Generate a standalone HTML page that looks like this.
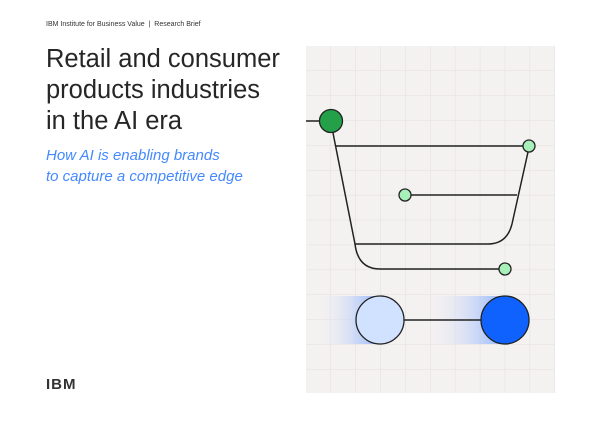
<!DOCTYPE html>
<html><head><style>
body{margin:0;width:600px;height:424px;background:#fff;font-family:"Liberation Sans",sans-serif;position:relative;overflow:hidden}
.t{position:absolute;left:46px;color:#161616}
</style></head><body>
<div class="t" style="top:21px;font-size:7px;color:#333">IBM Institute for Business Value &nbsp;|&nbsp; Research Brief</div>
<div class="t" style="top:44px;font-size:25.5px;line-height:31px;color:#262626;letter-spacing:0px">Retail and consumer<br>products industries<br>in the AI era</div>
<div class="t" style="top:145px;font-size:15px;line-height:21px;font-style:italic;color:#4589ff">How AI is enabling brands<br>to capture a competitive edge</div>
<div class="t" style="top:376px;font-size:15px;font-weight:bold;letter-spacing:1px;color:#333">IBM</div>
<svg style="position:absolute;left:0;top:0" width="600" height="424">
<defs>
<pattern id="g" x="306" y="46" width="24.9" height="24.9" patternUnits="userSpaceOnUse"><path d="M24.9 0V24.9M0 24.9H24.9" stroke="#e4dfdf" stroke-width="1" fill="none"/></pattern>
<linearGradient id="b1" x1="0" x2="1"><stop offset="0" stop-color="#f4f1f1" stop-opacity="0"/><stop offset="1" stop-color="#8fb4ff"/></linearGradient>
</defs>
<rect x="306" y="46" width="249" height="347" fill="#f4f1f1"/>
<rect x="306" y="46" width="249" height="347" fill="url(#g)"/>
<rect x="315" y="296" width="65" height="48" fill="url(#b1)"/>
<rect x="425" y="296" width="80" height="48" fill="url(#b1)"/>
<g stroke="#222" stroke-width="1.5" fill="none">
<path d="M306 121H320"/>
<path d="M333 133L355 244Q358 269 380 269H505"/>
<path d="M336 146H524"/>
<path d="M528 152L512 224Q507 244 488 244H355"/>
<path d="M405 195H517"/>
<path d="M380 320H505"/>
</g>
<g stroke="#222" stroke-width="1.3">
<circle cx="331" cy="121" r="11.5" fill="#24a148"/>
<circle cx="529" cy="146" r="6" fill="#a7f0ba"/>
<circle cx="405" cy="195" r="6" fill="#a7f0ba"/>
<circle cx="505" cy="269" r="6" fill="#a7f0ba"/>
<circle cx="380" cy="320" r="24" fill="#d0e2ff"/>
<circle cx="505" cy="320" r="24" fill="#0f62fe"/>
</g>
</svg>
</body></html>
